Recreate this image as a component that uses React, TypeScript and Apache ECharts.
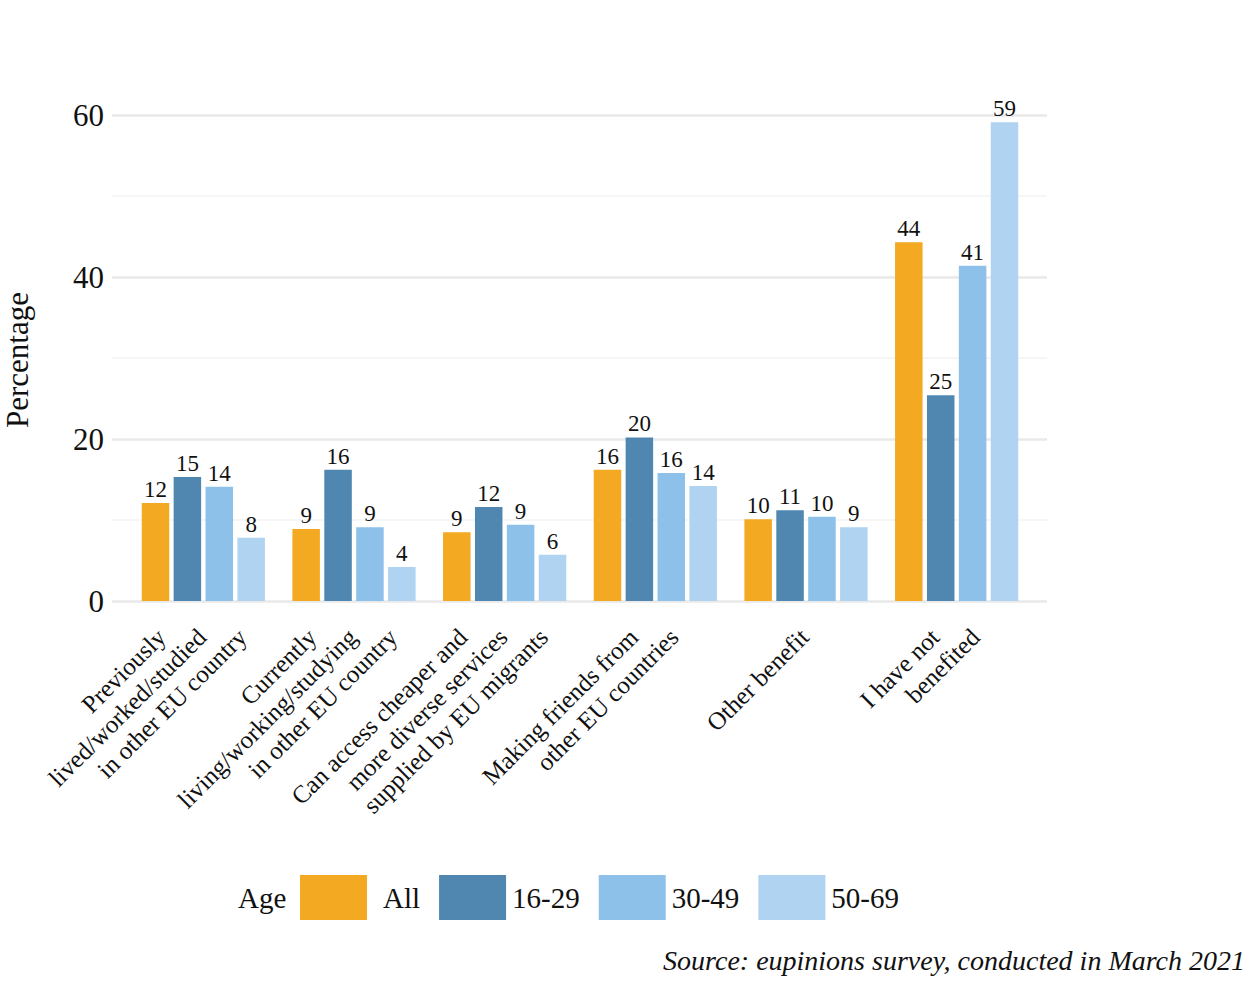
import React, { useEffect, useRef } from "react";
import * as echarts from "echarts";

const categories = [
  "Previously\nlived/worked/studied\nin other EU country",
  "Currently\nliving/working/studying\nin other EU country",
  "Can access cheaper and\nmore diverse services\nsupplied by EU migrants",
  "Making friends from\nother EU countries",
  "Other benefit",
  "I have not\nbenefited",
];
const seriesNames = ["All", "16-29", "30-49", "50-69"];
const valuesAll = [12.1, 8.9, 8.5, 16.2, 10.1, 44.3];
const values1629 = [15.3, 16.2, 11.6, 20.2, 11.2, 25.4];
const values3049 = [14.1, 9.1, 9.4, 15.8, 10.4, 41.4];
const values5069 = [7.8, 4.2, 5.7, 14.2, 9.1, 59.1];
const colors = ["#F3A922", "#4F87B0", "#8DC1E9", "#AFD3F0"];
const yTicks = [0, 20, 40, 60];

const FONT = "'Liberation Serif', 'DejaVu Serif', serif";
const LINE_H = 28.6;
const LABEL_FS = 25;

export default function App() {
  const ref = useRef<HTMLDivElement>(null);
  useEffect(() => {
    if (!ref.current) return;
    const chart = echarts.init(ref.current, null, { renderer: "svg" });
    const rich: Record<string, any> = {};
    for (let k = 0; k <= 4; k++) {
      rich["h" + k] = {
        align: "right",
        fontSize: LABEL_FS,
        fontFamily: FONT,
        color: "#111",
        lineHeight: LINE_H,
        padding: [0, (k * LINE_H) / 2, 0, 0],
      };
    }
    const allSeries = [valuesAll, values1629, values3049, values5069];
    const option: any = {
      animation: false,
      backgroundColor: "#ffffff",
      textStyle: { fontFamily: FONT },
      grid: [
        { left: 112, right: 200, top: 115, bottom: 384 },
        { left: 128, right: 215, top: 115, bottom: 384 },
      ],
      xAxis: [
        { gridIndex: 0, type: "value", min: 0, max: 1, show: false },
        {
          gridIndex: 1,
          type: "category",
          data: categories,
          axisLine: { show: false },
          axisTick: { show: false },
          axisLabel: {
            interval: 0,
            rotate: 45,
            margin: -7,
            padding: [53, 0, 0, 0],
            fontFamily: FONT,
            fontSize: LABEL_FS,
            color: "#111",
            rich,
            formatter: (v: string) => {
              const lines = v.split("\n");
              const n = lines.length;
              return lines
                .map((l, i) => `{h${n + 1 - 2 * i}|${l}}`)
                .join("\n");
            },
          },
        },
      ],
      yAxis: [
        {
          gridIndex: 0,
          type: "value",
          min: 0,
          max: 60,
          interval: 20,
          axisLine: { show: false },
          axisTick: { show: false },
          axisLabel: {
            margin: 8,
            fontSize: 31,
            fontFamily: FONT,
            color: "#111",
            customValues: yTicks,
          },
          splitLine: { show: true, lineStyle: { color: "#e9e9e9", width: 2.5 } },
          minorTick: { show: false, splitNumber: 2 },
          minorSplitLine: { show: true, lineStyle: { color: "#f3f3f3", width: 1.5 } },
        },
        { gridIndex: 1, type: "value", min: 0, max: 60, show: false },
      ],
      legend: {
        left: 300,
        top: 875,
        padding: 0,
        itemWidth: 67,
        itemHeight: 45,
        itemGap: 19,
        icon: "rect",
        textStyle: { fontSize: 29, fontFamily: FONT, color: "#111", padding: [0, 0, 0, 1] },
        data: [
          { name: "All", textStyle: { padding: [0, 0, 0, 11] } },
          { name: "16-29" },
          { name: "30-49" },
          { name: "50-69" },
        ],
      },
      graphic: [
        {
          type: "text",
          x: 17,
          y: 360,
          rotation: Math.PI / 2,
          style: {
            text: "Percentage",
            fontSize: 31,
            fontFamily: FONT,
            fill: "#111",
            align: "center",
            verticalAlign: "middle",
          },
        },
        {
          type: "text",
          x: 238,
          y: 898,
          style: {
            text: "Age",
            fontSize: 29,
            fontFamily: FONT,
            fill: "#111",
            align: "left",
            verticalAlign: "middle",
          },
        },
        {
          type: "text",
          x: 1245,
          y: 960,
          style: {
            text: "Source: eupinions survey, conducted in March 2021",
            fontSize: 28,
            fontStyle: "italic",
            fontFamily: FONT,
            fill: "#111",
            align: "right",
            verticalAlign: "middle",
          },
        },
      ],
      series: seriesNames.map((name, i) => ({
        name,
        type: "bar",
        xAxisIndex: 1,
        yAxisIndex: 1,
        data: allSeries[i],
        barWidth: 27.5,
        barGap: "16%",
        itemStyle: { color: colors[i] },
        label: {
          show: true,
          position: "top",
          distance: 2,
          fontSize: 23,
          fontFamily: FONT,
          color: "#111",
          formatter: (p: any) => String(Math.round(p.value)),
        },
      })),
    };
    chart.setOption(option);
    return () => chart.dispose();
  }, []);
  return (
    <div
      ref={ref}
      style={{ position: "absolute", left: 0, top: 0, width: 1247, height: 985 }}
    />
  );
}
